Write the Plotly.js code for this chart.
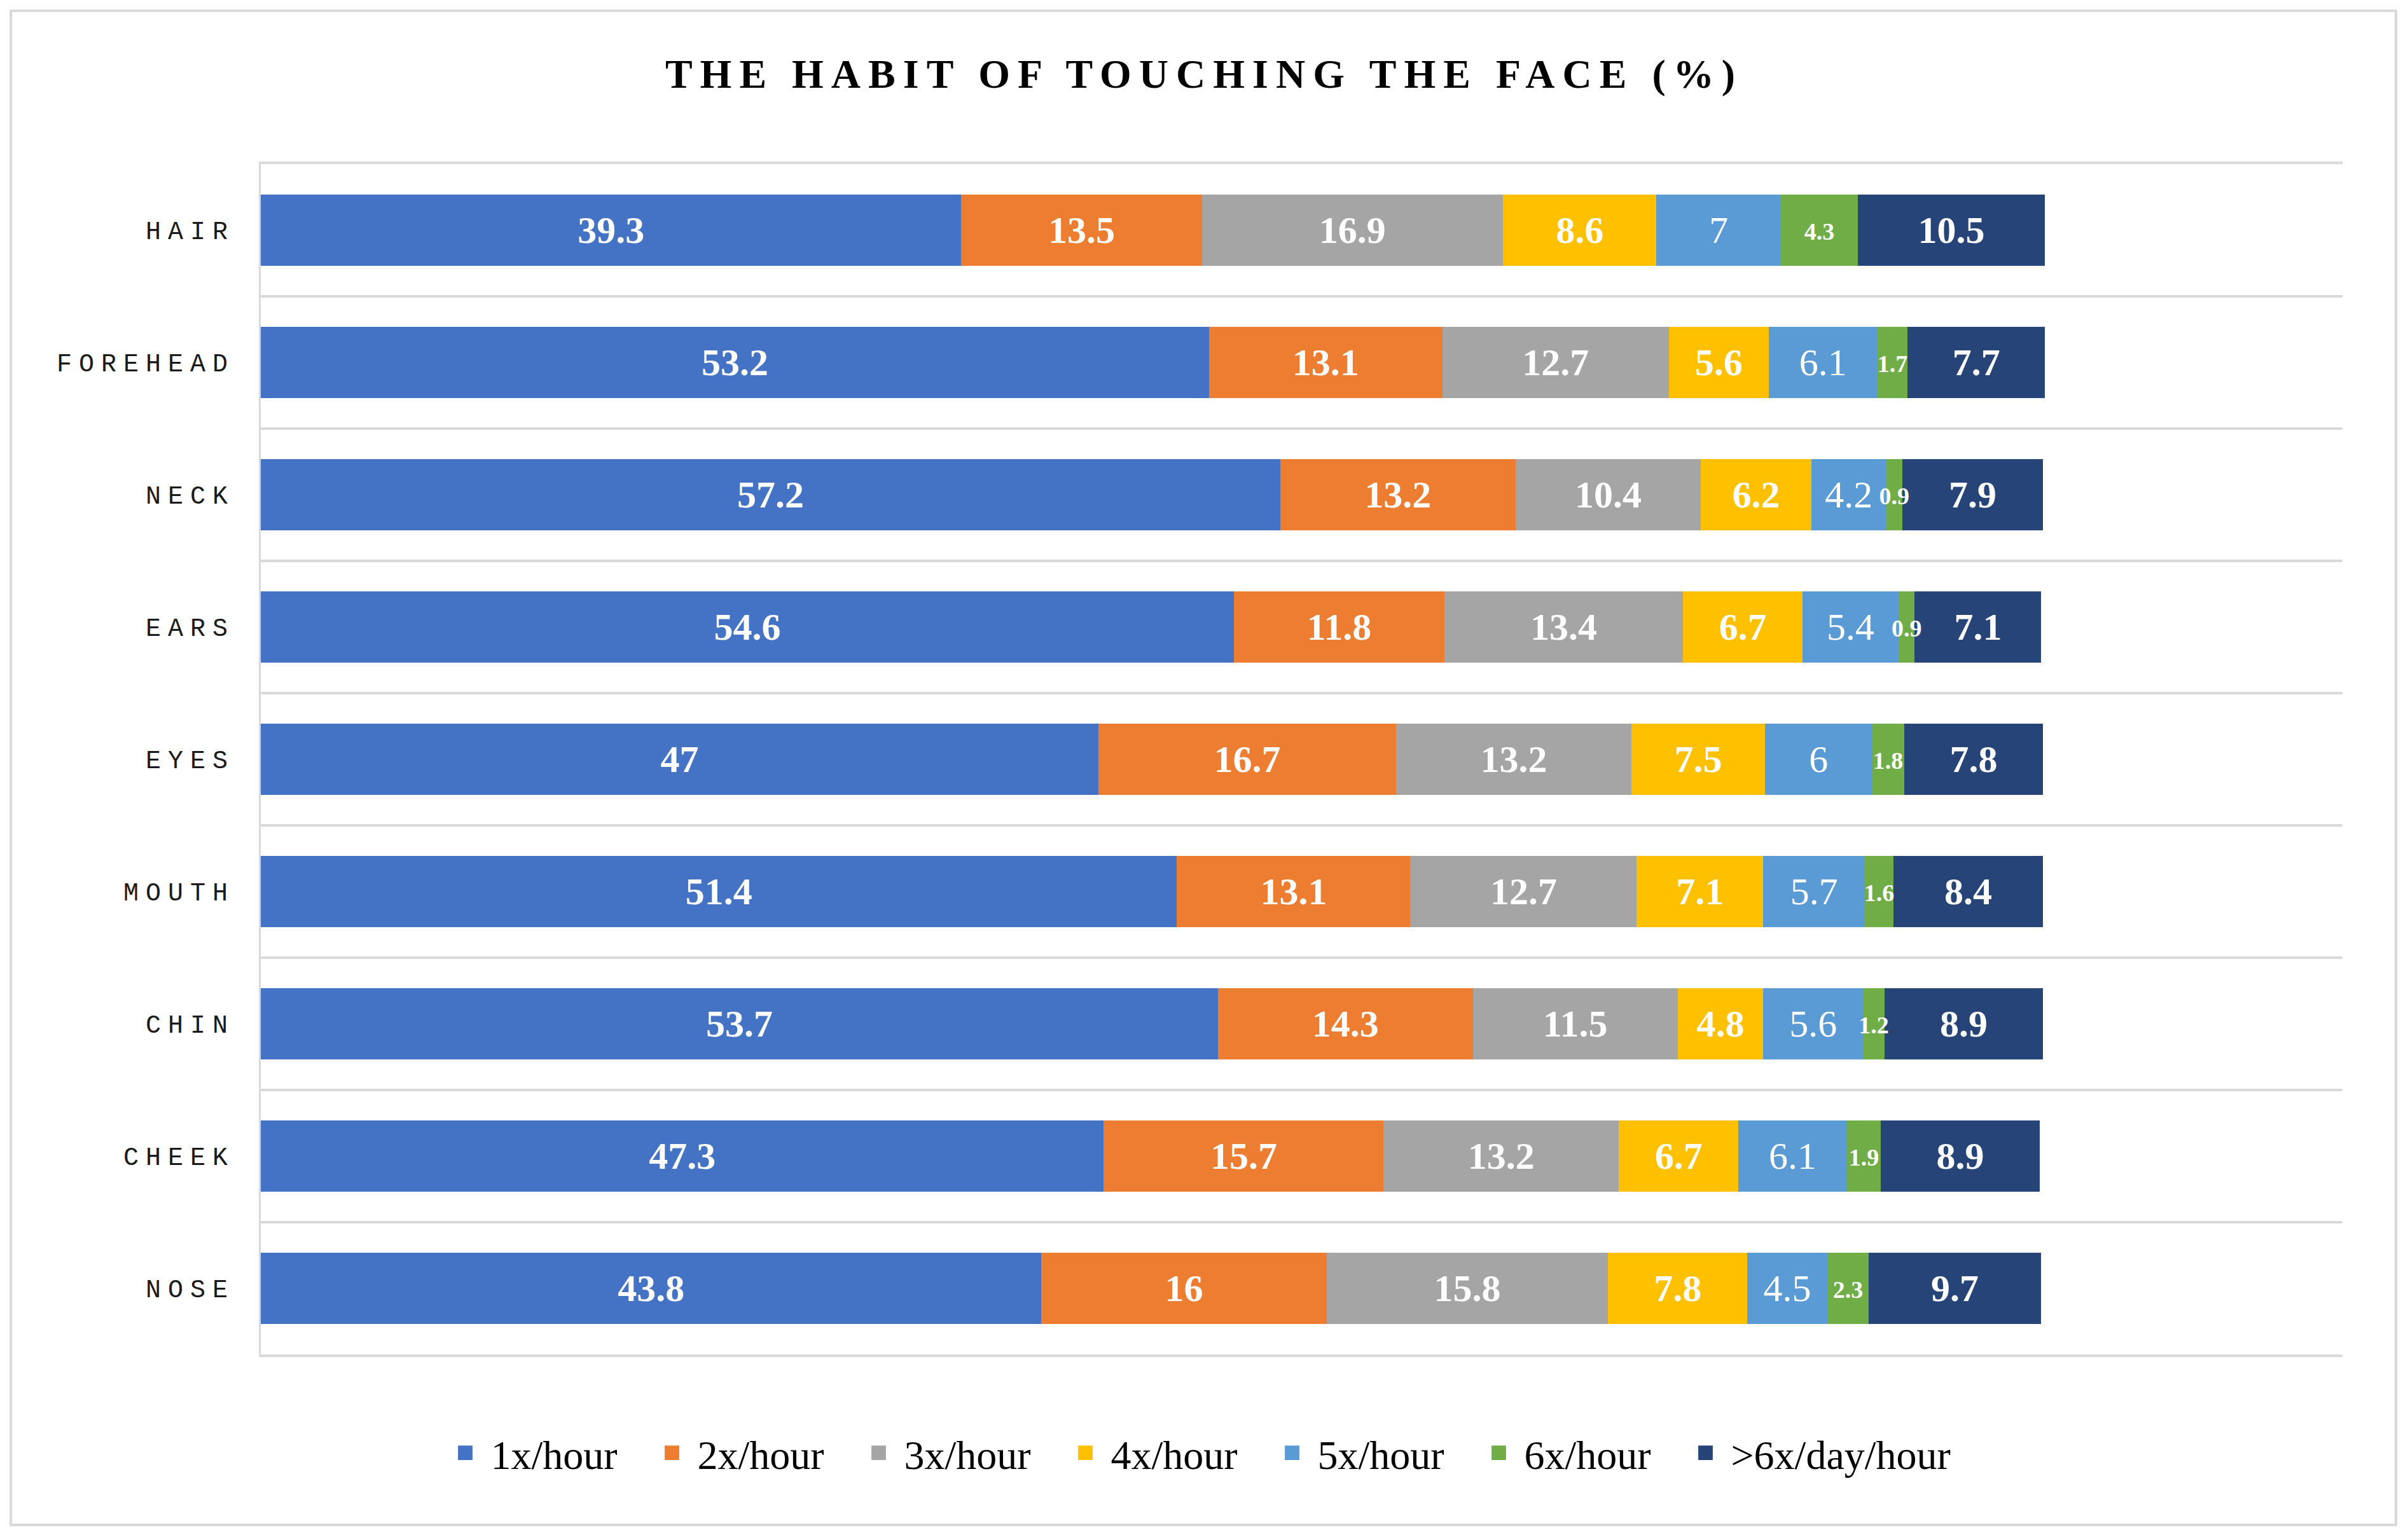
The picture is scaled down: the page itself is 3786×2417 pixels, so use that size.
<!DOCTYPE html>
<html>
<head>
<meta charset="utf-8">
<script src="https://cdn.plot.ly/plotly-3.0.1.min.js"></script>
<style>
  html, body { margin: 0; padding: 0; background: #ffffff; }
  #chart { width: 3786px; height: 2417px; }
  .gtitle { letter-spacing: 12px; }
  .ytick text { letter-spacing: 11px; }
  .legend .legendpoints path { transform: scale(1.9); }
  .legend .scrollbox { clip-path: none !important; }
  .textpoint text { transform: translateY(5px); }
</style>
</head>
<body>
<div id="chart"></div>
<script>
// ---- data ----
const categories = ["HAIR", "FOREHEAD", "NECK", "EARS", "EYES", "MOUTH", "CHIN", "CHEEK", "NOSE"];
const seriesNames = ["1x/hour", "2x/hour", "3x/hour", "4x/hour", "5x/hour", "6x/hour", ">6x/day/hour"];

const s1x = [39.3, 53.2, 57.2, 54.6, 47.0, 51.4, 53.7, 47.3, 43.8];
const s2x = [13.5, 13.1, 13.2, 11.8, 16.7, 13.1, 14.3, 15.7, 16.0];
const s3x = [16.9, 12.7, 10.4, 13.4, 13.2, 12.7, 11.5, 13.2, 15.8];
const s4x = [8.6, 5.6, 6.2, 6.7, 7.5, 7.1, 4.8, 6.7, 7.8];
const s5x = [7.0, 6.1, 4.2, 5.4, 6.0, 5.7, 5.6, 6.1, 4.5];
const s6x = [4.3, 1.7, 0.9, 0.9, 1.8, 1.6, 1.2, 1.9, 2.3];
const sMore = [10.5, 7.7, 7.9, 7.1, 7.8, 8.4, 8.9, 8.9, 9.7];

const seriesValues = [s1x, s2x, s3x, s4x, s5x, s6x, sMore];
const colors = ["#4472C4", "#ED7D31", "#A5A5A5", "#FFC000", "#5B9BD5", "#70AD47", "#264478"];
const labelSizes = [60, 60, 60, 60, 60, 38, 60];
const labelWeights = ["bold", "bold", "bold", "bold", "normal", "bold", "bold"];

const SERIF = "Liberation Serif, Times New Roman, serif";

// stacked bars
const barTraces = seriesValues.map((vals, i) => ({
  type: "bar",
  orientation: "h",
  name: seriesNames[i],
  x: vals,
  y: categories,
  marker: { color: colors[i], line: { width: 0 } },
  hoverinfo: "skip",
  showlegend: true
}));

// value labels, placed at the middle of each stacked segment (drawn above all bars)
const cum = categories.map(() => 0);
const textTraces = seriesValues.map((vals, i) => {
  const mids = vals.map((v, j) => {
    const m = cum[j] + v / 2;
    cum[j] += v;
    return m;
  });
  return {
    type: "scatter",
    mode: "text",
    x: mids,
    y: categories,
    text: vals.map(v => String(v)),
    textposition: "middle center",
    textfont: { family: SERIF, size: labelSizes[i], color: "#ffffff", weight: labelWeights[i] },
    hoverinfo: "skip",
    showlegend: false
  };
});

const W = 3786, H = 2417;
const L = 410, R = 103, T = 258, B = 287;
const pw = W - L - R, ph = H - T - B;
const px = v => (v - L) / pw;
const py = v => (H - B - v) / ph;

const layout = {
  width: W,
  height: H,
  margin: { l: L, r: R, t: T, b: B, pad: 0 },
  paper_bgcolor: "#ffffff",
  plot_bgcolor: "#ffffff",
  barmode: "stack",
  bargap: 0.465,
  title: {
    text: "<b>THE HABIT OF TOUCHING THE FACE (%)</b>",
    font: { family: SERIF, size: 64, color: "#000000" },
    x: 0.5,
    xanchor: "center",
    xref: "container",
    y: 1 - 116 / H,
    yanchor: "middle",
    yref: "container"
  },
  xaxis: {
    visible: true,
    showticklabels: false,
    ticks: "",
    showgrid: false,
    zeroline: false,
    showline: true,
    mirror: true,
    linecolor: "#d9d9d9",
    linewidth: 4,
    range: [0, 116.8],
    fixedrange: true
  },
  yaxis: {
    type: "category",
    autorange: "reversed",
    tickson: "boundaries",
    ticks: "",
    showgrid: true,
    gridcolor: "#d9d9d9",
    gridwidth: 4,
    showline: true,
    linecolor: "#d9d9d9",
    linewidth: 3,
    zeroline: false,
    ticklabelstandoff: 30,
    tickfont: { family: "Liberation Mono, Courier New, monospace", size: 40, color: "#1a1a1a" },
    fixedrange: true
  },
  showlegend: true,
  legend: {
    orientation: "h",
    x: px(1869),
    xanchor: "center",
    y: py(2285),
    yanchor: "middle",
    font: { family: SERIF, size: 64, color: "#000000" },
    traceorder: "normal",
    entrywidth: 280,
    entrywidthmode: "pixels",
    bgcolor: "rgba(0,0,0,0)"
  },
  shapes: [
    {
      type: "rect",
      xref: "paper", yref: "paper",
      x0: px(17), x1: px(3767),
      y0: py(2398), y1: py(17),
      line: { color: "#d9d9d9", width: 4 },
      fillcolor: "rgba(0,0,0,0)",
      layer: "below"
    }
  ]
};

Plotly.newPlot("chart", barTraces.concat(textTraces), layout, { displayModeBar: false, staticPlot: true });
</script>
</body>
</html>
